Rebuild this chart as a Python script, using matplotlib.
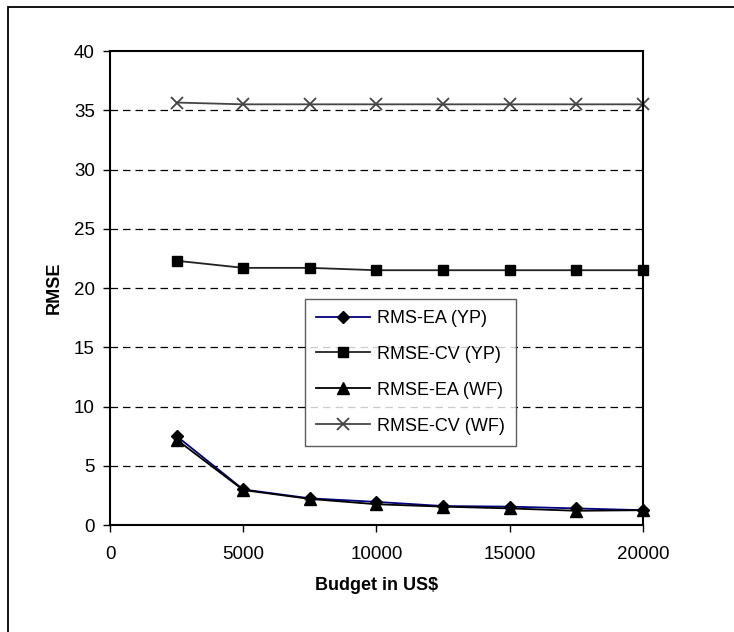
import matplotlib.pyplot as plt
from matplotlib.patches import Rectangle

plt.rcParams['font.family'] = ['Liberation Sans', 'DejaVu Sans']

# budget (US$)
budget = [2500, 5000, 7500, 10000, 12500, 15000, 17500, 20000]
# RMSE series
rms_ea_yp = [7.5, 3.0, 2.25, 1.95, 1.6, 1.55, 1.4, 1.25]
rmse_cv_yp = [22.3, 21.7, 21.7, 21.5, 21.5, 21.5, 21.5, 21.5]
rmse_ea_wf = [7.2, 2.95, 2.2, 1.75, 1.55, 1.4, 1.2, 1.25]
rmse_cv_wf = [35.65, 35.5, 35.5, 35.5, 35.5, 35.5, 35.5, 35.5]

fig = plt.figure(figsize=(7.34, 6.32), dpi=100)
ax = fig.add_axes([0.1499, 0.1693, 0.726, 0.75])

# outer frame (only top/left visible in original)
fig.patches.append(Rectangle((8 / 734, -0.05), 1.2, 1 - 7 / 632 + 0.05,
                             transform=fig.transFigure, fill=False,
                             edgecolor='black', linewidth=1.3))

ax.plot(budget, rms_ea_yp, color='#000080', marker='D', markersize=6.5,
        markerfacecolor='black', markeredgecolor='black', lw=1.3,
        clip_on=False, label='RMS-EA (YP)')
ax.plot(budget, rmse_cv_yp, color='#222222', marker='s', markersize=7.5,
        markerfacecolor='black', markeredgecolor='black', lw=1.3,
        clip_on=False, label='RMSE-CV (YP)')
ax.plot(budget, rmse_ea_wf, color='black', marker='^', markersize=9,
        markerfacecolor='black', markeredgecolor='black', lw=1.3,
        clip_on=False, label='RMSE-EA (WF)')
ax.plot(budget, rmse_cv_wf, color='#444444', marker='x', markersize=8.5,
        markeredgewidth=1.3, lw=1.3, clip_on=False, label='RMSE-CV (WF)')

ax.set_xlim(0, 20000)
ax.set_ylim(0, 40)
ax.set_xticks(range(0, 20001, 5000))
ax.set_yticks(range(0, 41, 5))
for y in range(5, 40, 5):
    ax.axhline(y, color='black', lw=0.9, ls=(0, (6, 4)), zorder=0)

for s in ax.spines.values():
    s.set_linewidth(1.5)
ax.tick_params(direction='out', length=5, width=1, labelsize=13.5, pad=6, colors='black')
ax.tick_params(axis='x', pad=10)

ax.set_ylabel('RMSE', fontsize=13, fontweight='bold', labelpad=8)
ax.set_xlabel('Budget in US$', fontsize=13, fontweight='bold', labelpad=10)

leg = ax.legend(loc='upper left', bbox_to_anchor=((305 - 110) / 533, (525 - 299) / 474),
                fontsize=13, frameon=True, fancybox=False, borderpad=0.6,
                labelspacing=1.05, handlelength=3.0, handletextpad=0.4,
                borderaxespad=0)
leg.get_frame().set_edgecolor('#333333')
leg.get_frame().set_linewidth(1.0)

fig.savefig('out.png', dpi=100)
